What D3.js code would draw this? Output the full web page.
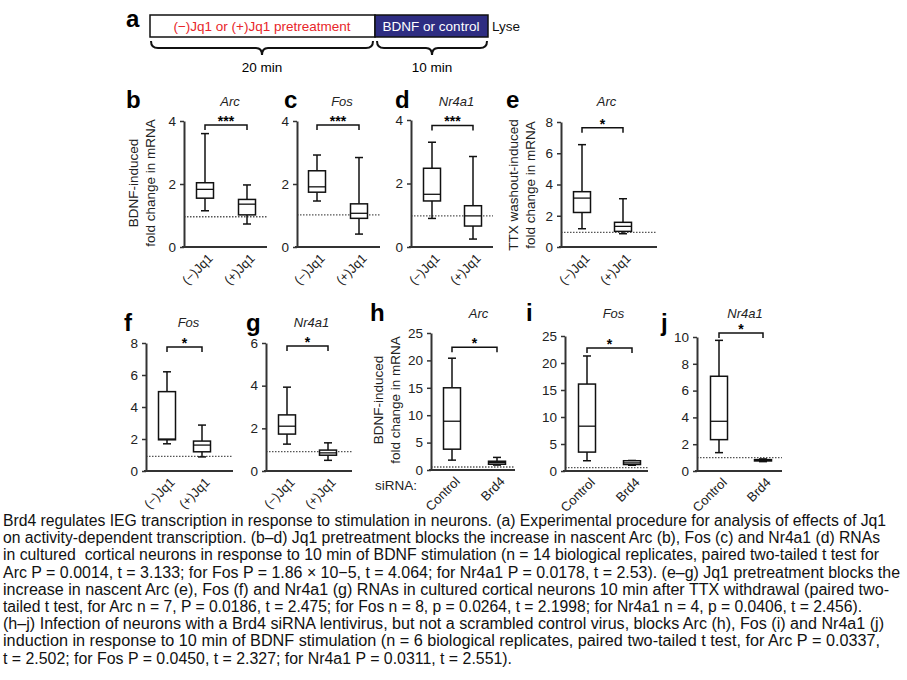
<!DOCTYPE html>
<html>
<head>
<meta charset="utf-8">
<script src="https://cdn.jsdelivr.net/npm/d3@7"></script>
<style>
  body { margin: 0; background: #fff; }
  text { font-family: "Liberation Sans", Arial, sans-serif; }
</style>
</head>
<body>
<script>
// categorie e valori
const jq1Groups = ["(\u2212)Jq1", "(+)Jq1"];
const sirnaGroups = ["Control", "Brd4"];
const panelLetters = ["b", "c", "d", "e", "f", "g", "h", "i", "j"];
const geneTitles = ["Arc", "Fos", "Nr4a1", "Arc", "Fos", "Nr4a1", "Arc", "Fos", "Nr4a1"];
const yMax = [4, 4, 4, 8, 8, 6, 25, 25, 10];
const yTicks = [[0, 2, 4], [0, 2, 4], [0, 2, 4], [0, 2, 4, 6, 8], [0, 2, 4, 6, 8], [0, 2, 4, 6],
  [0, 5, 10, 15, 20, 25], [0, 5, 10, 15, 20, 25], [0, 2, 4, 6, 8, 10]];

// box: [whisker basso, Q1, mediana, Q3, whisker alto]
const boxB = [[1.15, 1.55, 1.83, 2.04, 3.6], [0.73, 1.02, 1.36, 1.51, 1.97]];
const boxC = [[1.46, 1.74, 1.91, 2.42, 2.92], [0.41, 0.91, 1.07, 1.37, 2.84]];
const boxD = [[0.9, 1.45, 1.66, 2.48, 3.3], [0.25, 0.66, 0.98, 1.3, 2.85]];
const boxE = [[1.17, 2.21, 3.13, 3.54, 6.55], [0.85, 1.0, 1.32, 1.58, 3.09]];
const boxF = [[1.7, 1.95, 2.0, 4.96, 6.2], [0.88, 1.2, 1.62, 1.87, 2.87]];
const boxG = [[1.26, 1.73, 2.1, 2.63, 3.93], [0.5, 0.74, 0.85, 0.98, 1.32]];
const boxH = [[1.8, 3.8, 8.9, 15.0, 20.4], [0.9, 1.05, 1.35, 1.6, 2.3]];
const boxI = [[1.9, 3.5, 8.3, 16.1, 21.3], [1.06, 1.2, 1.5, 1.9, 1.95]];
const boxJ = [[1.37, 2.34, 3.71, 7.07, 9.75], [0.7, 0.75, 0.8, 0.85, 0.9]];
const baselineLevel = [0.96, 1.02, 0.98, 0.94, 0.92, 0.91, 0.55, 0.63, 1.0];
const bracketLevel = [3.87, 3.87, 3.83, 7.64, 7.75, 5.86, 22.4, 22.8, 10.3];
const sigStars = ["***", "***", "***", "*", "*", "*", "*", "*", "*"];

const captionLines = [
  "Brd4 regulates IEG transcription in response to stimulation in neurons. (a) Experimental procedure for analysis of effects of Jq1",
  "on activity-dependent transcription. (b\u2013d) Jq1 pretreatment blocks the increase in nascent Arc (b), Fos (c) and Nr4a1 (d) RNAs",
  "in cultured  cortical neurons in response to 10 min of BDNF stimulation (n = 14 biological replicates, paired two-tailed t test for",
  "Arc P = 0.0014, t = 3.133; for Fos P = 1.86 \u00d7 10\u22125, t = 4.064; for Nr4a1 P = 0.0178, t = 2.53). (e\u2013g) Jq1 pretreatment blocks the",
  "increase in nascent Arc (e), Fos (f) and Nr4a1 (g) RNAs in cultured cortical neurons 10 min after TTX withdrawal (paired two-",
  "tailed t test, for Arc n = 7, P = 0.0186, t = 2.475; for Fos n = 8, p = 0.0264, t = 2.1998; for Nr4a1 n = 4, p = 0.0406, t = 2.456).",
  "(h\u2013j) Infection of neurons with a Brd4 siRNA lentivirus, but not a scrambled control virus, blocks Arc (h), Fos (i) and Nr4a1 (j)",
  "induction in response to 10 min of BDNF stimulation (n = 6 biological replicates, paired two-tailed t test, for Arc P = 0.0337,",
  "t = 2.502; for Fos P = 0.0450, t = 2.327; for Nr4a1 P = 0.0311, t = 2.551)."
];
const captionWidths = [883, 877, 876, 897, 886, 859, 881, 877, 509];

const boxes = [boxB, boxC, boxD, boxE, boxF, boxG, boxH, boxI, boxJ];

// posizione dei pannelli nella pagina
const layout = [
  { x0: 184, x1: 267, c: [205, 247], y0: 247, y1: 121, lx: 126, ly: 108, ty: 101 },
  { x0: 297, x1: 380, c: [317, 359], y0: 247, y1: 121, lx: 284, ly: 108, ty: 101 },
  { x0: 411, x1: 493, c: [432, 473], y0: 247, y1: 120, lx: 395, ly: 108, ty: 101 },
  { x0: 561, x1: 657, c: [582, 623], y0: 247, y1: 122, lx: 506, ly: 108, ty: 101 },
  { x0: 146, x1: 233, c: [167, 202], y0: 471, y1: 343, lx: 124, ly: 331, ty: 322 },
  { x0: 266, x1: 352, c: [287, 328], y0: 471, y1: 343, lx: 246, ly: 331, ty: 322 },
  { x0: 431, x1: 515, c: [452, 497], y0: 470, y1: 333, lx: 370, ly: 321, ty: 313 },
  { x0: 565, x1: 648, c: [587, 632], y0: 471, y1: 336, lx: 526, ly: 321, ty: 313 },
  { x0: 697, x1: 782, c: [719, 763], y0: 471, y1: 337, lx: 661, ly: 331, ty: 313 }
];
const yLabels = [
  { i: 0, x: 133, y: 183, lines: ["BDNF-induced", "fold change in mRNA"] },
  { i: 3, x: 513, y: 185, lines: ["TTX washout-induced", "fold change in mRNA"] },
  { i: 6, x: 378, y: 400, lines: ["BDNF-induced", "fold change in mRNA"] }
];

var width = 907, height = 680;
var svg = d3.select("body").append("svg")
  .attr("width", width)
  .attr("height", height);

svg.append("rect").attr("width", width).attr("height", height).attr("fill", "#fff");

// ---- pannello a: schema temporale
var pa = svg.append("g");
pa.append("text").attr("x", 126).attr("y", 27).text("a")
  .style("font-size", "24px").style("font-weight", "bold");
pa.append("rect").attr("x", 150).attr("y", 15).attr("width", 225).attr("height", 22)
  .attr("fill", "#fff").attr("stroke", "#111").attr("stroke-width", 1.5);
pa.append("rect").attr("x", 375).attr("y", 15).attr("width", 113).attr("height", 22)
  .attr("fill", "#2e2d82").attr("stroke", "#111").attr("stroke-width", 1.5);
pa.append("text").attr("x", 262).attr("y", 31).attr("text-anchor", "middle")
  .style("font-size", "13.5px").style("fill", "#e8262a").text("(\u2212)Jq1 or (+)Jq1 pretreatment");
pa.append("text").attr("x", 431).attr("y", 31).attr("text-anchor", "middle")
  .style("font-size", "13.5px").style("fill", "#fff").text("BDNF or control");
pa.append("text").attr("x", 492).attr("y", 31)
  .style("font-size", "13.5px").style("fill", "#111").text("Lyse");

function brace(a, b) {
  var m = (a + b) / 2;
  return `M${a},41 Q${a},48 ${a + 7},48 L${m - 6},48 Q${m},48 ${m},55 Q${m},48 ${m + 6},48 L${b - 7},48 Q${b},48 ${b},41`;
}
pa.append("path").attr("d", brace(151, 373)).attr("fill", "none").attr("stroke", "#111").attr("stroke-width", 2);
pa.append("path").attr("d", brace(377, 487)).attr("fill", "none").attr("stroke", "#111").attr("stroke-width", 2);
pa.append("text").attr("x", 262).attr("y", 72).attr("text-anchor", "middle").style("font-size", "13.5px").text("20 min");
pa.append("text").attr("x", 432).attr("y", 72).attr("text-anchor", "middle").style("font-size", "13.5px").text("10 min");

// ---- pannelli b-j: boxplot
layout.forEach(function (L, i) {
  var g = svg.append("g");
  var groups = i >= 6 ? sirnaGroups : jq1Groups;
  var y = d3.scaleLinear().domain([0, yMax[i]]).range([L.y0, L.y1]);
  var x = d3.scalePoint().domain(groups).range(L.c);

  // lettera del pannello e titolo
  g.append("text").attr("x", L.lx).attr("y", L.ly).text(panelLetters[i])
    .style("font-size", "24px").style("font-weight", "bold");
  g.append("text").attr("x", (L.c[0] + L.c[1]) / 2 + 4).attr("y", L.ty + 5)
    .attr("text-anchor", "middle").style("font-size", "13px").style("font-style", "italic")
    .style("fill", "#222").text(geneTitles[i]);

  // linea tratteggiata di riferimento
  g.append("line").attr("x1", L.x0).attr("x2", L.x1)
    .attr("y1", y(baselineLevel[i])).attr("y2", y(baselineLevel[i]))
    .attr("stroke", "#555").attr("stroke-width", 1.3).attr("stroke-dasharray", "1.5,1.5");

  // asse y
  var ax = g.append("g").attr("transform", `translate(${L.x0},0)`)
    .call(d3.axisLeft(y).tickValues(yTicks[i]).tickFormat(d3.format("d"))
      .tickSize(4).tickSizeOuter(0).tickPadding(4));
  ax.select(".domain").attr("stroke", "#333").attr("stroke-width", 2);
  ax.selectAll(".tick line").attr("stroke", "#333").attr("stroke-width", 1.5);
  ax.selectAll(".tick text").style("font-size", "13.5px").style("fill", "#222")
    .style("font-family", "Liberation Sans, Arial, sans-serif");

  // asse x
  g.append("line").attr("x1", L.x0 - 2).attr("x2", L.x1).attr("y1", L.y0).attr("y2", L.y0)
    .attr("stroke", "#333").attr("stroke-width", 2);
  var bx = g.append("g").attr("transform", `translate(0,${L.y0})`)
    .call(d3.axisBottom(x).tickSize(0));
  bx.select(".domain").remove();
  bx.selectAll(".tick text")
    .attr("text-anchor", "end")
    .attr("transform", "translate(5,9) rotate(-45)")
    .attr("dy", "0.35em").attr("y", 0)
    .style("font-size", "13px").style("fill", "#222")
    .style("font-family", "Liberation Sans, Arial, sans-serif");

  // box e whisker
  var bw = 17, cap = 8;
  var b = g.selectAll(".box").data(boxes[i]).enter().append("g").attr("class", "box")
    .attr("transform", (d, k) => `translate(${x(groups[k])},0)`);
  b.append("line").attr("y1", d => y(d[0])).attr("y2", d => y(d[1]))
    .attr("stroke", "#111").attr("stroke-width", 1.5);
  b.append("line").attr("y1", d => y(d[3])).attr("y2", d => y(d[4]))
    .attr("stroke", "#111").attr("stroke-width", 1.5);
  b.append("line").attr("x1", -cap / 2).attr("x2", cap / 2).attr("y1", d => y(d[0])).attr("y2", d => y(d[0]))
    .attr("stroke", "#111").attr("stroke-width", 1.5);
  b.append("line").attr("x1", -cap / 2).attr("x2", cap / 2).attr("y1", d => y(d[4])).attr("y2", d => y(d[4]))
    .attr("stroke", "#111").attr("stroke-width", 1.5);
  b.append("rect").attr("x", -bw / 2).attr("width", bw)
    .attr("y", d => y(d[3])).attr("height", d => Math.max(1, y(d[1]) - y(d[3])))
    .attr("fill", "#fff").attr("stroke", "#111").attr("stroke-width", 1.5);
  b.append("line").attr("x1", -bw / 2).attr("x2", bw / 2).attr("y1", d => y(d[2])).attr("y2", d => y(d[2]))
    .attr("stroke", "#111").attr("stroke-width", 1.3);

  // parentesi di significatività
  var yb = y(bracketLevel[i]);
  g.append("path")
    .attr("d", `M${L.c[0]},${yb + 5} L${L.c[0]},${yb} L${L.c[1]},${yb} L${L.c[1]},${yb + 5}`)
    .attr("fill", "none").attr("stroke", "#111").attr("stroke-width", 1.5);
  g.append("text").attr("x", (L.c[0] + L.c[1]) / 2).attr("y", yb + 1)
    .attr("text-anchor", "middle").style("font-size", "14px").style("font-weight", "bold")
    .text(sigStars[i]);
});

// etichette asse y
yLabels.forEach(function (l) {
  var t = svg.append("text")
    .attr("transform", `translate(${l.x},${l.y}) rotate(-90)`)
    .attr("text-anchor", "middle").style("font-size", "13.5px").style("fill", "#222");
  l.lines.forEach(function (s, k) {
    t.append("tspan").attr("x", 0).attr("dy", k === 0 ? "0.35em" : "1.25em").text(s);
  });
});

svg.append("text").attr("x", 375).attr("y", 490).style("font-size", "13.5px").style("fill", "#222").text("siRNA:");

// didascalia
svg.selectAll(".cap").data(captionLines).enter().append("text")
  .attr("class", "cap")
  .attr("x", 3)
  .attr("y", (d, k) => 526 + k * 17.2)
  .attr("textLength", (d, k) => captionWidths[k])
  .attr("lengthAdjust", "spacingAndGlyphs")
  .style("font-family", "'Liberation Sans Narrow', 'Liberation Sans', Arial, sans-serif")
  .style("font-size", "16px")
  .style("fill", "#111")
  .style("white-space", "pre")
  .text(d => d);
</script>
</body>
</html>
